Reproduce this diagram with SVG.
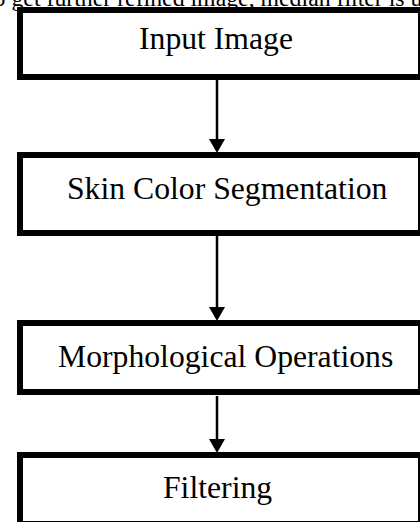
<svg xmlns="http://www.w3.org/2000/svg" width="420" height="522" viewBox="0 0 420 522">
<style>
.box{fill:#fff;stroke:#000;stroke-width:6}
.lbl{font-family:"Liberation Serif","Times New Roman",serif;font-size:31.7px;fill:#000}
.body{font-family:"Liberation Serif","Times New Roman",serif;font-size:23.8px;fill:#000}
.conn{stroke:#000;stroke-width:2.5;fill:none}
.head{fill:#000}
</style>
<rect width="420" height="522" fill="#fff"/>
<text class="body" x="-13" y="6">to get further refined image, median filter is used</text>
<g id="connectors">
<line class="conn" x1="217" y1="80" x2="217" y2="141"/>
<polygon class="head" points="209,139 225,139 217,153"/>
<line class="conn" x1="217" y1="236" x2="217" y2="309"/>
<polygon class="head" points="209,307 225,307 217,321"/>
<line class="conn" x1="217" y1="396" x2="217" y2="441"/>
<polygon class="head" points="209,439 225,439 217,453"/>
</g>
<g id="node-input">
<rect class="box" x="20" y="10" width="401" height="67"/>
<text class="lbl" x="139" y="49">Input Image</text>
</g>
<g id="node-skin">
<rect class="box" x="20" y="155" width="401" height="78"/>
<text class="lbl" x="67" y="199">Skin Color Segmentation</text>
</g>
<g id="node-morph">
<rect class="box" x="20" y="323" width="401" height="69"/>
<text class="lbl" x="58" y="367">Morphological Operations</text>
</g>
<g id="node-filter">
<rect class="box" x="20" y="455" width="401" height="69"/>
<text class="lbl" x="163" y="498">Filtering</text>
</g>
</svg>
